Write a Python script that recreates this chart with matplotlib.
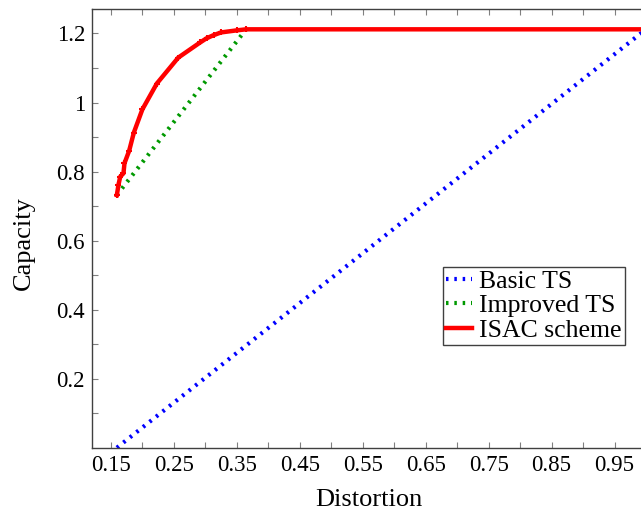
import numpy as np
import matplotlib
matplotlib.use('Agg')
import matplotlib.pyplot as plt

plt.rcParams['font.family'] = ['Liberation Serif', 'DejaVu Serif']
plt.rcParams['mathtext.fontset'] = 'stix'

# Basic TS: straight line between two end points
basic_d = [0.1595, 1.0]
basic_c = [0.0, 1.212]

# Improved TS
improved_d = [0.1595, 0.3648]
improved_c = [0.732, 1.212]

# ISAC scheme
isac_d = [0.1595, 0.162, 0.1648, 0.170, 0.1716, 0.179, 0.1865, 0.200, 0.223,
          0.257, 0.2918, 0.302, 0.313, 0.325, 0.350, 0.3648, 1.0]
isac_c = [0.732, 0.761, 0.785, 0.795, 0.824, 0.860, 0.913, 0.980, 1.055,
          1.130, 1.174, 1.186, 1.195, 1.203, 1.209, 1.212, 1.212]

xticks = [0.15, 0.20, 0.25, 0.30, 0.35, 0.40, 0.45, 0.50, 0.55, 0.60,
          0.65, 0.70, 0.75, 0.80, 0.85, 0.90, 0.95]
xlabels = ['0.15', '', '0.25', '', '0.35', '', '0.45', '', '0.55', '',
           '0.65', '', '0.75', '', '0.85', '', '0.95']
yticks = [0.1, 0.2, 0.3, 0.4, 0.5, 0.6, 0.7, 0.8, 0.9, 1.0, 1.1, 1.2]
ylabels = ['', '0.2', '', '0.4', '', '0.6', '', '0.8', '', '1', '', '1.2']

fig = plt.figure(figsize=(6.41, 5.12), dpi=100)
ax = fig.add_axes([92 / 641, 64.3 / 512, 554 / 641, 438.4 / 512])

ax.plot(basic_d, basic_c, color='#0000ff', linestyle=(0, (0.6, 1.4)),
        linewidth=3, dash_capstyle='butt', label='Basic TS', zorder=2)
ax.plot(improved_d, improved_c, color='#009900', linestyle=(0, (0.6, 1.4)),
        linewidth=3, dash_capstyle='butt', label='Improved TS', zorder=2)
ax.plot(isac_d[:-1], isac_c[:-1], color='#ff0000', linestyle='none',
        marker='+', markersize=4, markeredgewidth=1.5, zorder=3)
ax.plot(isac_d, isac_c, color='#ff0000', linewidth=3.2,
        label='ISAC scheme', zorder=3)

ax.set_xlim(0.12, 1.0)
ax.set_ylim(0, 1.27)
ax.set_xticks(xticks)
ax.set_xticklabels(xlabels)
ax.set_yticks(yticks)
ax.set_yticklabels(ylabels)
ax.tick_params(direction='in', length=4, width=0.8, color='#808080',
               labelsize=16.5, top=True, right=False, pad=5)
ax.spines['right'].set_visible(False)
for s in ['left', 'bottom', 'top']:
    ax.spines[s].set_color('#404040')
    ax.spines[s].set_linewidth(1.0)

fig.text(369 / 641, 1 - 500 / 512, 'Distortion', fontsize=19,
         ha='center', va='center')
fig.text(24 / 641, 1 - 243 / 512, 'Capacity', fontsize=19,
         ha='center', va='center', rotation=90)

leg = ax.legend(loc='upper left', bbox_to_anchor=(443 / 641, 1 - 266.7 / 512),
                bbox_transform=fig.transFigure, fontsize=18.5, frameon=True,
                fancybox=False, edgecolor='#404040', framealpha=1,
                handlelength=1.0, handletextpad=0.3, borderpad=0.12,
                labelspacing=0.06, borderaxespad=0)
leg.get_frame().set_linewidth(1.0)

fig.savefig('out.png', dpi=100)
